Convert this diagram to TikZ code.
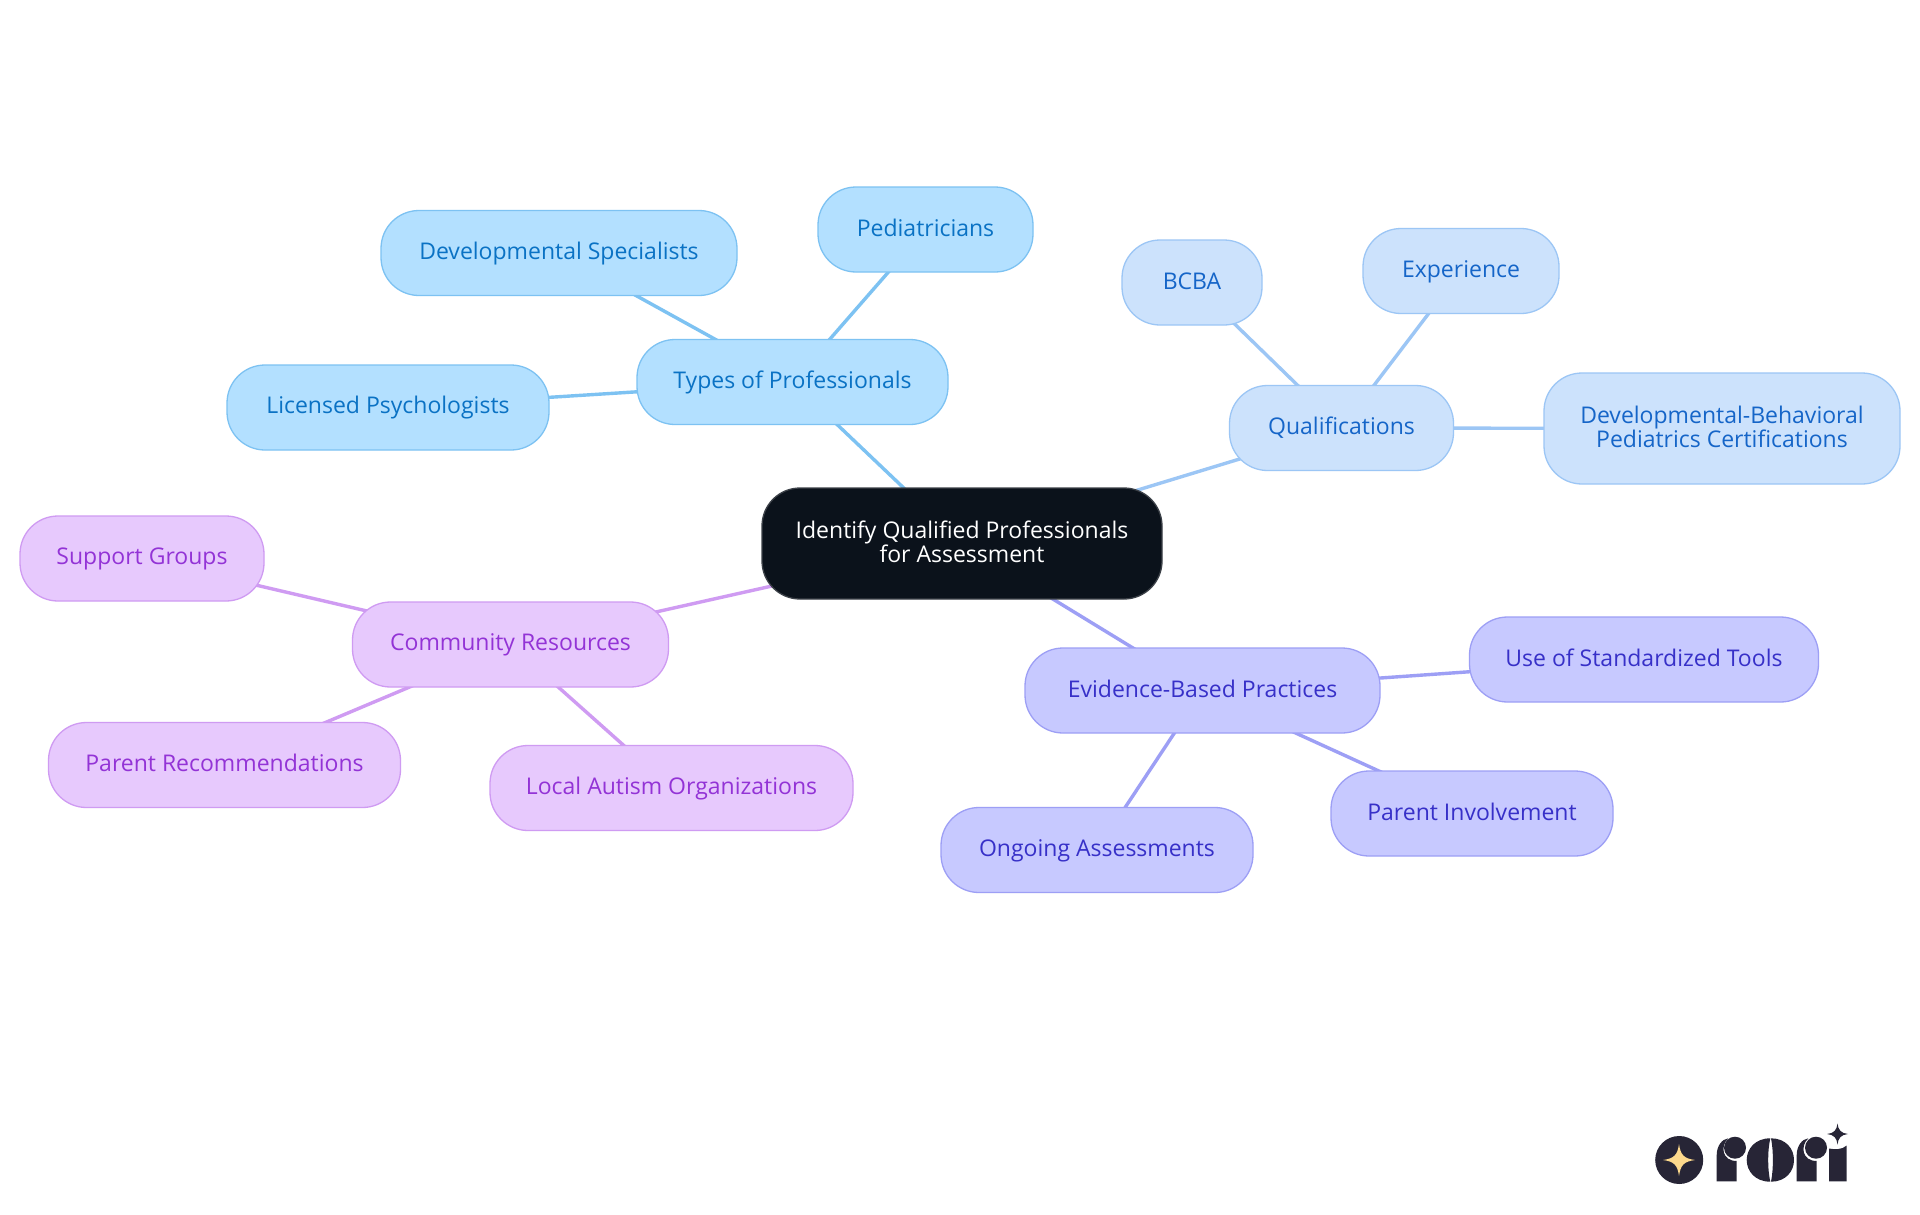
\documentclass[tikz,border=0pt]{standalone}
\usepackage{fontspec}
\setmainfont{Open Sans}
\newcommand{\lnstrut}{\rule[-5pt]{0pt}{23.5pt}}
\definecolor{inkdark}{HTML}{272536}
\definecolor{starc}{HTML}{FDD98C}
\definecolor{rootf}{HTML}{0B121B}
\definecolor{rootd}{HTML}{3C4148}
\definecolor{af}{HTML}{B3E0FF}\definecolor{ad}{HTML}{7DC2F2}\definecolor{at}{HTML}{0A72C4}
\definecolor{bf}{HTML}{CCE2FC}\definecolor{bd}{HTML}{9CC6F5}\definecolor{bt}{HTML}{1565C8}
\definecolor{cf}{HTML}{C7C9FF}\definecolor{cd}{HTML}{9D9FF5}\definecolor{ct}{HTML}{3730C8}
\definecolor{df}{HTML}{E7C9FD}\definecolor{dd}{HTML}{CF9BF2}\definecolor{dt}{HTML}{9333D6}
\tikzset{
  x=1pt,y=-1pt,
  mm/.style={rectangle,rounded corners=38pt,line width=1.3pt,align=center,font=\fontsize{23}{24.5}\selectfont,inner sep=0pt,minimum height=85pt},
  nA/.style={mm,fill=af,draw=ad,text=at},
  nB/.style={mm,fill=bf,draw=bd,text=bt},
  nC/.style={mm,fill=cf,draw=cd,text=ct},
  nD/.style={mm,fill=df,draw=dd,text=dt},
  nR/.style={mm,fill=rootf,draw=rootd,text=white},
  lA/.style={draw=ad,line width=3.4pt},
  lB/.style={draw=bd,line width=3.4pt},
  lC/.style={draw=cd,line width=3.4pt},
  lD/.style={draw=dd,line width=3.4pt},
  logo/.style={fill=inkdark,draw=none},
}
\begin{document}
\begin{tikzpicture}
\useasboundingbox (0,0) rectangle (1920,1215);
\fill[white] (0,0) rectangle (1920,1215);
\coordinate (Rc) at (962,543.5);
\coordinate (Tc) at (792.5,382);
\coordinate (Qc) at (1341.5,428);
\coordinate (Ec) at (1202.5,690.5);
\coordinate (Cc) at (510.5,644.5);
\coordinate (a1c) at (559,253);
\coordinate (a2c) at (925.5,229.5);
\coordinate (a3c) at (388,407.5);
\coordinate (b1c) at (1192,282.5);
\coordinate (b2c) at (1461,271);
\coordinate (b3c) at (1722,428.5);
\coordinate (c1c) at (1644,659.5);
\coordinate (c2c) at (1472,813.5);
\coordinate (c3c) at (1097,850);
\coordinate (d1c) at (142,558.5);
\coordinate (d2c) at (224.5,765);
\coordinate (d3c) at (671.5,788);
\draw[lA] (Rc)--(Tc); \draw[lA] (Tc)--(a1c); \draw[lA] (Tc)--(a2c); \draw[lA] (Tc)--(a3c);
\draw[lB] (Rc)--(Qc); \draw[lB] (Qc)--(b1c); \draw[lB] (Qc)--(b2c); \draw[lB] (Qc)--(b3c);
\draw[lC] (Rc)--(Ec); \draw[lC] (Ec)--(c1c); \draw[lC] (Ec)--(c2c); \draw[lC] (Ec)--(c3c);
\draw[lD] (Rc)--(Cc); \draw[lD] (Cc)--(d1c); \draw[lD] (Cc)--(d2c); \draw[lD] (Cc)--(d3c);
\node[nR,minimum width=400pt,minimum height=111pt] (root) at (Rc) {\lnstrut Identify Qualified Professionals\\\lnstrut for Assessment};
\node[nA,minimum width=311pt] (types) at (Tc) {\lnstrut Types of Professionals};
\node[nA,minimum width=356pt] (a1) at (a1c) {\lnstrut Developmental Specialists};
\node[nA,minimum width=215pt] (a2) at (a2c) {\lnstrut Pediatricians};
\node[nA,minimum width=322pt] (a3) at (a3c) {\lnstrut Licensed Psychologists};
\node[nB,minimum width=224pt] (qual) at (Qc) {\lnstrut Qualifications};
\node[nB,minimum width=140pt] (b1) at (b1c) {\lnstrut BCBA};
\node[nB,minimum width=196pt] (b2) at (b2c) {\lnstrut Experience};
\node[nB,minimum width=356pt,minimum height=111pt] (b3) at (b3c) {\lnstrut Developmental-Behavioral\\\lnstrut Pediatrics Certifications};
\node[nC,minimum width=355pt] (ev) at (Ec) {\lnstrut Evidence-Based Practices};
\node[nC,minimum width=349pt] (c1) at (c1c) {\lnstrut Use of Standardized Tools};
\node[nC,minimum width=282pt] (c2) at (c2c) {\lnstrut Parent Involvement};
\node[nC,minimum width=312pt] (c3) at (c3c) {\lnstrut Ongoing Assessments};
\node[nD,minimum width=316pt] (comm) at (Cc) {\lnstrut Community Resources};
\node[nD,minimum width=244pt] (d1) at (d1c) {\lnstrut Support Groups};
\node[nD,minimum width=352pt] (d2) at (d2c) {\lnstrut Parent Recommendations};
\node[nD,minimum width=363pt] (d3) at (d3c) {\lnstrut Local Autism Organizations};
% logo
\fill[logo] (1679.2,1160) circle (24);
\fill[starc] (1679,1144) .. controls (1680.5,1155) and (1684,1158.5) .. (1695,1160) .. controls (1684,1161.5) and (1680.5,1165) .. (1679,1176) .. controls (1677.5,1165) and (1674,1161.5) .. (1663,1160) .. controls (1674,1158.5) and (1677.5,1155) .. (1679,1144) -- cycle;
% r
\fill[logo] (1716.7,1181.3) -- (1716.7,1155) .. controls (1716.7,1146) and (1722,1139) .. (1728.3,1138.3) .. controls (1720,1146) and (1722,1161) .. (1736.7,1161) -- (1736.7,1181.3) -- cycle;
\fill[logo] (1735,1147.7) circle (11);
% o
\fill[logo] (1770.3,1138.3) .. controls (1755,1138.3) and (1746.7,1149) .. (1746.7,1160) .. controls (1746.7,1171) and (1755,1181.7) .. (1770.3,1181.7) .. controls (1767.5,1170) and (1767.5,1150) .. (1770.3,1138.3) -- cycle;
\fill[logo] (1771,1138.3) .. controls (1786,1138.3) and (1794,1149) .. (1794,1160) .. controls (1794,1171) and (1786,1181.7) .. (1771,1181.7) .. controls (1773.5,1170) and (1773.5,1150) .. (1771,1138.3) -- cycle;
% r
\fill[logo] (1796.7,1181.3) -- (1796.7,1155) .. controls (1796.7,1146) and (1802,1139) .. (1808.3,1138.3) .. controls (1800,1146) and (1802,1161) .. (1816.7,1161) -- (1816.7,1181.3) -- cycle;
\fill[logo] (1816,1147.7) circle (11);
% i
\fill[logo] (1829,1181.3) -- (1829,1148.5) .. controls (1834,1149.5) and (1842,1150) .. (1846.7,1145.5) -- (1846.7,1181.3) -- cycle;
\fill[logo] (1837.5,1123.5) .. controls (1838.2,1130) and (1841,1133.3) .. (1848,1134) .. controls (1841,1134.7) and (1838.2,1138) .. (1837.5,1144.5) .. controls (1836.8,1138) and (1834,1134.7) .. (1827,1134) .. controls (1834,1133.3) and (1836.8,1130) .. (1837.5,1123.5) -- cycle;
\end{tikzpicture}
\end{document}
